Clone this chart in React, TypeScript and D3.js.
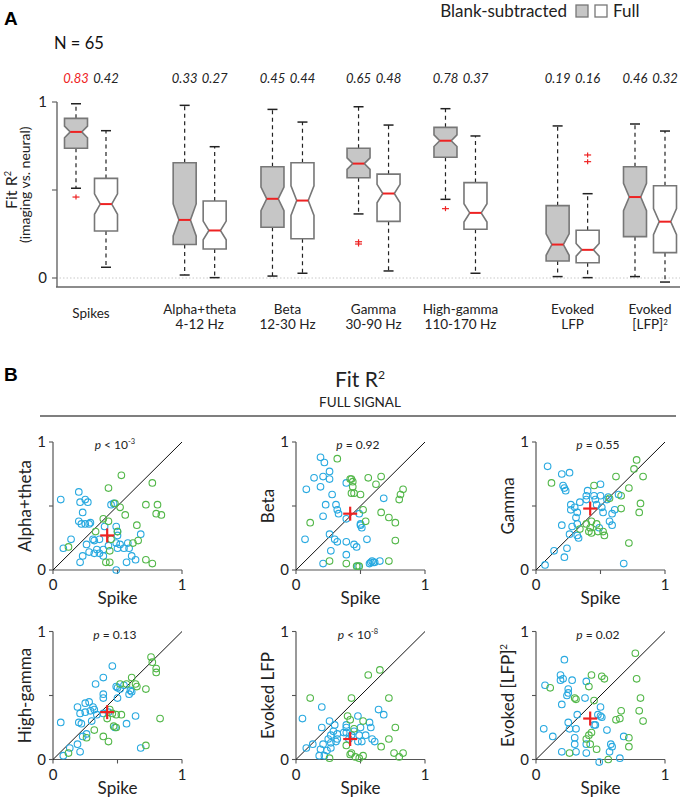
import React from "react";
import * as d3 from "d3";

// ---------------- DATA ----------------
const groupLabels: string[][] = [
  ["Spikes"],
  ["Alpha+theta", "4-12 Hz"],
  ["Beta", "12-30 Hz"],
  ["Gamma", "30-90 Hz"],
  ["High-gamma", "110-170 Hz"],
  ["Evoked", "LFP"],
  ["Evoked", "[LFP]^2"],
];
const N = 65;
// box stats: [lowWhisker, q1, median, q3, highWhisker]
const blankStats: number[][] = [
  [0.51, 0.737, 0.83, 0.907, 0.99],
  [0.017, 0.19, 0.33, 0.655, 0.981],
  [0.011, 0.288, 0.45, 0.632, 0.958],
  [0.364, 0.57, 0.65, 0.737, 0.973],
  [0.447, 0.686, 0.78, 0.856, 0.962],
  [0.008, 0.097, 0.19, 0.411, 0.864],
  [0.008, 0.235, 0.46, 0.632, 0.875],
];
const fullStats: number[][] = [
  [0.061, 0.267, 0.42, 0.566, 0.837],
  [0.002, 0.165, 0.27, 0.4375, 0.746],
  [0.027, 0.223, 0.44, 0.655, 0.886],
  [0.04, 0.322, 0.48, 0.59, 0.869],
  [0.027, 0.277, 0.37, 0.542, 0.807],
  [0.002, 0.087, 0.16, 0.271, 0.479],
  [-0.023, 0.144, 0.32, 0.524, 0.835],
];
const blankOutliers: number[][] = [[0.46], [], [], [0.206, 0.193], [0.394], [], []];
const fullOutliers: number[][] = [[], [], [], [], [], [0.699, 0.661], []];
const highlightBlank = [true, false, false, false, false, false, false];

// scatter panels (x = Spike full R², y = signal full R²)
const scatterNames = ["Alpha+theta", "Beta", "Gamma", "High-gamma", "Evoked LFP", "Evoked [LFP]^2"];
const pTexts = ["< 10^-3", "= 0.92", "= 0.55", "= 0.13", "< 10^-8", "= 0.02"];

const alphaBlue = [[0.06,0.55],[0.20,0.61],[0.21,0.53],[0.25,0.55],[0.27,0.53],[0.23,0.45],[0.20,0.38],[0.22,0.36],[0.25,0.36],[0.28,0.36],[0.29,0.37],[0.14,0.24],[0.08,0.17],[0.31,0.24],[0.32,0.23],[0.26,0.20],[0.23,0.11],[0.21,0.06],[0.28,0.14],[0.32,0.13],[0.34,0.16],[0.39,0.16],[0.39,0.11],[0.40,0.34],[0.45,0.51],[0.47,0.52],[0.49,0.34],[0.50,0.30],[0.50,0.27],[0.49,0.21],[0.50,0.17],[0.52,0.20],[0.55,0.17],[0.58,0.21],[0.59,0.17],[0.61,0.11],[0.64,0.08],[0.57,0.06],[0.68,0.28],[0.49,0.00],[0.36,0.13],[0.36,0.24],[0.43,0.19]];
const alphaGreen = [[0.53,0.74],[0.43,0.64],[0.77,0.68],[0.48,0.52],[0.52,0.49],[0.56,0.43],[0.72,0.51],[0.81,0.51],[0.80,0.44],[0.84,0.43],[0.39,0.40],[0.43,0.38],[0.33,0.30],[0.65,0.35],[0.50,0.30],[0.45,0.24],[0.66,0.23],[0.62,0.21],[0.12,0.18],[0.44,0.15],[0.41,0.06],[0.44,0.06],[0.72,0.08],[0.77,0.05]];
const betaBlue = [[0.19,0.88],[0.22,0.84],[0.26,0.77],[0.14,0.72],[0.21,0.73],[0.26,0.71],[0.08,0.63],[0.19,0.65],[0.28,0.59],[0.23,0.51],[0.31,0.51],[0.32,0.47],[0.33,0.44],[0.21,0.42],[0.39,0.68],[0.39,0.40],[0.49,0.44],[0.50,0.35],[0.51,0.33],[0.68,0.56],[0.07,0.24],[0.26,0.28],[0.30,0.24],[0.32,0.22],[0.39,0.22],[0.45,0.20],[0.47,0.18],[0.55,0.24],[0.27,0.15],[0.39,0.12],[0.21,0.05],[0.48,0.03],[0.57,0.05],[0.59,0.07],[0.60,0.06],[0.61,0.06],[0.65,0.07],[0.58,0.06],[0.50,0.36]];
const betaGreen = [[0.32,0.87],[0.42,0.71],[0.43,0.71],[0.44,0.69],[0.44,0.65],[0.43,0.60],[0.45,0.60],[0.50,0.59],[0.56,0.72],[0.66,0.73],[0.62,0.67],[0.83,0.63],[0.81,0.59],[0.80,0.55],[0.52,0.47],[0.66,0.45],[0.72,0.41],[0.77,0.37],[0.54,0.38],[0.11,0.37],[0.77,0.23],[0.26,0.07],[0.39,0.05],[0.47,0.03],[0.72,0.07],[0.49,0.03]];
const gammaBlue = [[0.09,0.81],[0.20,0.75],[0.26,0.76],[0.21,0.66],[0.22,0.64],[0.23,0.62],[0.50,0.67],[0.40,0.62],[0.39,0.58],[0.45,0.58],[0.50,0.58],[0.39,0.55],[0.46,0.55],[0.27,0.51],[0.30,0.49],[0.34,0.53],[0.27,0.47],[0.32,0.45],[0.31,0.41],[0.20,0.35],[0.28,0.34],[0.32,0.36],[0.26,0.28],[0.32,0.27],[0.33,0.25],[0.51,0.49],[0.52,0.45],[0.55,0.55],[0.56,0.57],[0.64,0.59],[0.61,0.47],[0.59,0.44],[0.57,0.38],[0.59,0.35],[0.49,0.33],[0.14,0.15],[0.24,0.17],[0.22,0.10],[0.07,0.04],[0.68,0.05],[0.47,0.51]];
const gammaGreen = [[0.12,0.68],[0.45,0.66],[0.78,0.86],[0.76,0.79],[0.83,0.73],[0.62,0.73],[0.72,0.64],[0.66,0.58],[0.57,0.56],[0.66,0.48],[0.81,0.52],[0.80,0.45],[0.39,0.36],[0.43,0.38],[0.47,0.36],[0.41,0.30],[0.43,0.29],[0.42,0.33],[0.52,0.30],[0.53,0.27],[0.34,0.32],[0.72,0.21],[0.48,0.30]];
const hgBlue = [[0.46,0.73],[0.39,0.64],[0.33,0.59],[0.39,0.51],[0.39,0.48],[0.28,0.45],[0.25,0.44],[0.19,0.41],[0.31,0.41],[0.21,0.36],[0.25,0.37],[0.29,0.38],[0.32,0.39],[0.34,0.35],[0.39,0.36],[0.43,0.37],[0.06,0.29],[0.20,0.29],[0.22,0.28],[0.30,0.30],[0.50,0.56],[0.52,0.55],[0.50,0.48],[0.55,0.58],[0.59,0.51],[0.60,0.54],[0.61,0.53],[0.64,0.34],[0.57,0.28],[0.48,0.25],[0.26,0.20],[0.23,0.18],[0.19,0.12],[0.21,0.06],[0.13,0.09],[0.08,0.03],[0.68,0.09],[0.49,0.57]];
const hgGreen = [[0.76,0.80],[0.77,0.76],[0.80,0.71],[0.80,0.68],[0.61,0.64],[0.64,0.59],[0.65,0.57],[0.72,0.55],[0.52,0.59],[0.83,0.32],[0.53,0.35],[0.49,0.35],[0.42,0.32],[0.44,0.39],[0.46,0.36],[0.47,0.26],[0.49,0.25],[0.32,0.23],[0.26,0.17],[0.39,0.18],[0.43,0.14],[0.72,0.11],[0.12,0.05],[0.57,0.59]];
const evBlue = [[0.05,0.32],[0.20,0.41],[0.26,0.30],[0.20,0.25],[0.30,0.27],[0.39,0.27],[0.39,0.25],[0.48,0.34],[0.50,0.25],[0.57,0.29],[0.58,0.25],[0.64,0.39],[0.68,0.35],[0.27,0.19],[0.32,0.20],[0.25,0.16],[0.27,0.13],[0.21,0.12],[0.19,0.08],[0.18,0.03],[0.22,0.03],[0.24,0.07],[0.31,0.14],[0.32,0.16],[0.37,0.21],[0.43,0.19],[0.45,0.22],[0.49,0.19],[0.54,0.19],[0.48,0.14],[0.51,0.14],[0.59,0.16],[0.61,0.14],[0.08,0.09],[0.13,0.12],[0.27,0.09],[0.39,0.21],[0.41,0.16],[0.29,0.22]];
const evGreen = [[0.65,0.70],[0.56,0.66],[0.11,0.48],[0.43,0.48],[0.72,0.48],[0.40,0.34],[0.42,0.31],[0.52,0.30],[0.77,0.25],[0.72,0.16],[0.66,0.10],[0.39,0.11],[0.42,0.04],[0.43,0.05],[0.46,0.02],[0.49,0.01],[0.52,0.03],[0.76,0.05],[0.80,0.02],[0.83,0.05],[0.26,0.01],[0.45,0.24]];
const ev2Blue = [[0.22,0.78],[0.19,0.66],[0.19,0.62],[0.21,0.63],[0.07,0.58],[0.28,0.62],[0.39,0.61],[0.25,0.55],[0.25,0.52],[0.24,0.50],[0.20,0.43],[0.38,0.48],[0.50,0.41],[0.48,0.35],[0.50,0.34],[0.51,0.33],[0.32,0.35],[0.25,0.29],[0.06,0.24],[0.13,0.18],[0.26,0.24],[0.31,0.24],[0.45,0.27],[0.46,0.27],[0.55,0.23],[0.30,0.17],[0.30,0.12],[0.39,0.12],[0.31,0.06],[0.20,0.06],[0.39,0.05],[0.58,0.12],[0.59,0.10],[0.57,0.06],[0.68,0.18],[0.65,0.01],[0.49,-0.02]];
const ev2Green = [[0.77,0.83],[0.78,0.63],[0.43,0.66],[0.51,0.65],[0.53,0.63],[0.41,0.57],[0.11,0.56],[0.30,0.48],[0.31,0.47],[0.45,0.46],[0.81,0.48],[0.66,0.38],[0.80,0.38],[0.83,0.30],[0.62,0.31],[0.65,0.32],[0.43,0.21],[0.41,0.19],[0.39,0.16],[0.42,0.12],[0.47,0.08],[0.72,0.17],[0.72,0.10],[0.26,0.05],[0.56,0.00]];

const blueSets = [alphaBlue, betaBlue, gammaBlue, hgBlue, evBlue, ev2Blue];
const greenSets = [alphaGreen, betaGreen, gammaGreen, hgGreen, evGreen, ev2Green];

// ---------------- LAYOUT / STYLE ----------------
const W = 682, H = 798;
const FONT = "Lato, 'Open Sans', sans-serif";
const groupSlots = [0, 1.25, 2.26, 3.25, 4.25, 5.54, 6.43];
const BOX_GRAY = "#777";
const BLANK_FILL = "#c6c6c6";
const RED = "#ee2222";
const BLUE = "#28a9e0";
const GREEN = "#52b748";

const fmt = d3.format(".2f");

function Sup({ text, size, rise = 0.4 }: { text: string; size: number; rise?: number }) {
  const [base, sup] = text.split("^");
  return (
    <>
      {base}
      {sup !== undefined && (
        <tspan fontSize={size * 0.58} dy={-size * rise}>
          {sup}
        </tspan>
      )}
    </>
  );
}

function BoxPanel() {
  const y = d3.scaleLinear().domain([0, 1]).range([278, 102]);
  const xs = d3.scaleLinear().domain([0, 6.43]).range([91, 650]);
  const off = 15;
  const halfW = 11.5;
  const capHalf = 5;
  const line = d3.line();

  const drawBox = (s: number[], cx: number, fill: string, outs: number[], key: string) => {
    const [lo, q1, med, q3, hi] = s;
    const notch = (1.57 * (q3 - q1)) / Math.sqrt(N);
    const inner = halfW / 2;
    const pts: [number, number][] = [
      [cx - halfW, y(q3)],
      [cx + halfW, y(q3)],
      [cx + halfW, y(med + notch)],
      [cx + inner, y(med)],
      [cx + halfW, y(med - notch)],
      [cx + halfW, y(q1)],
      [cx - halfW, y(q1)],
      [cx - halfW, y(med - notch)],
      [cx - inner, y(med)],
      [cx - halfW, y(med + notch)],
    ];
    return (
      <g key={key}>
        <line x1={cx} x2={cx} y1={y(q3)} y2={y(hi)} stroke="#222" strokeWidth={1.2} strokeDasharray="4,3.5" />
        <line x1={cx} x2={cx} y1={y(q1)} y2={y(lo)} stroke="#222" strokeWidth={1.2} strokeDasharray="4,3.5" />
        <line x1={cx - capHalf} x2={cx + capHalf} y1={y(hi)} y2={y(hi)} stroke="#222" strokeWidth={1.5} />
        <line x1={cx - capHalf} x2={cx + capHalf} y1={y(lo)} y2={y(lo)} stroke="#222" strokeWidth={1.5} />
        <path d={line(pts) + "Z"} fill={fill} stroke={BOX_GRAY} strokeWidth={1.6} />
        <line x1={cx - inner} x2={cx + inner} y1={y(med)} y2={y(med)} stroke={RED} strokeWidth={2} />
        {outs.map((o, i) => (
          <g key={i} stroke={RED} strokeWidth={1.2}>
            <line x1={cx - 3.5} x2={cx + 3.5} y1={y(o)} y2={y(o)} />
            <line x1={cx} x2={cx} y1={y(o) - 2.5} y2={y(o) + 2.5} />
          </g>
        ))}
      </g>
    );
  };

  return (
    <g fontFamily={FONT}>
      <text x={4} y={25} fontSize={19} fontWeight="bold" fontFamily="Arial, 'Liberation Sans', sans-serif">A</text>
      <text x={54} y={49} fontSize={16.5} fill="#111">N = {N}</text>
      {/* legend */}
      <text x={567} y={17} fontSize={17} textAnchor="end" fill="#222">Blank-subtracted</text>
      <rect x={576} y={5} width={12} height={12} fill={BLANK_FILL} stroke={BOX_GRAY} strokeWidth={1.3} />
      <rect x={595} y={5} width={12} height={12} fill="#fff" stroke={BOX_GRAY} strokeWidth={1.3} />
      <text x={613} y={17} fontSize={17} fill="#222">Full</text>

      {/* axes */}
      <line x1={56} x2={680} y1={y(0)} y2={y(0)} stroke="#bbb" strokeWidth={0.8} strokeDasharray="1.5,2" />
      <line x1={57} x2={57} y1={y(1)} y2={287} stroke="#666" strokeWidth={1.4} />
      <line x1={56} x2={680} y1={287} y2={287} stroke="#666" strokeWidth={1.6} />
      {[0, 0.5, 1].map((t) => (
        <line key={t} x1={52} x2={57} y1={y(t)} y2={y(t)} stroke="#666" strokeWidth={1.2} />
      ))}
      <text x={47} y={y(1) + 5} fontSize={15} textAnchor="end" fill="#222">1</text>
      <text x={47} y={y(0) + 5} fontSize={15} textAnchor="end" fill="#222">0</text>
      <text transform={`translate(17,${y(0.5)}) rotate(-90)`} textAnchor="middle" fontSize={16} fill="#222">
        <Sup text="Fit R^2" size={16} />
      </text>
      <text transform={`translate(30,${y(0.53)}) rotate(-90)`} textAnchor="middle" fontSize={14} fill="#222">
        (imaging vs. neural)
      </text>

      {groupLabels.map((lbl, i) => {
        const gx = xs(groupSlots[i]);
        return (
          <g key={i}>
            {drawBox(blankStats[i], gx - off, BLANK_FILL, blankOutliers[i], "b" + i)}
            {drawBox(fullStats[i], gx + off, "#fff", fullOutliers[i], "f" + i)}
            <text x={gx - off} y={83} fontSize={13} fontStyle="italic" textAnchor="middle" fill={highlightBlank[i] ? RED : "#222"}>
              {fmt(blankStats[i][2])}
            </text>
            <text x={gx + off} y={83} fontSize={13} fontStyle="italic" textAnchor="middle" fill="#222">
              {fmt(fullStats[i][2])}
            </text>
            {lbl.map((l, j) => (
              <text key={j} x={gx} y={lbl.length === 1 ? 318 : 314 + j * 14.5} fontSize={13.5} textAnchor="middle" fill="#222">
                <Sup text={l} size={13.5} rise={0.25} />
              </text>
            ))}
          </g>
        );
      })}
    </g>
  );
}

function PText({ t }: { t: string }) {
  const [rel, rest] = [t.slice(0, 1), t.slice(2)];
  const [base, exp] = rest.split("^");
  return (
    <>
      <tspan fontStyle="italic">p</tspan>
      {` ${rel} ${base}`}
      {exp !== undefined && (
        <tspan fontSize={7.5} dy={-5}>
          {exp}
        </tspan>
      )}
    </>
  );
}

function Scatter({ i }: { i: number }) {
  const cols = [53, 296, 536];
  const rows = [442, 631.5];
  const x0 = cols[i % 3];
  const top = rows[Math.floor(i / 3)];
  const x = d3.scaleLinear().domain([0, 1]).range([x0, x0 + 129]);
  const y = d3.scaleLinear().domain([0, 1]).range([top + 128, top]);
  const mean = [fullStats[0][2], fullStats[i + 1][2]];
  const ax = "#555";
  return (
    <g fontFamily={FONT}>
      <line x1={x(0)} x2={x(0)} y1={y(0)} y2={y(1)} stroke={ax} strokeWidth={1.2} />
      <line x1={x(0)} x2={x(1)} y1={y(0)} y2={y(0)} stroke={ax} strokeWidth={1.2} />
      {[0, 0.5, 1].map((t) => (
        <g key={t}>
          <line x1={x(0) - 4} x2={x(0)} y1={y(t)} y2={y(t)} stroke={ax} strokeWidth={1.1} />
          <line x1={x(t)} x2={x(t)} y1={y(0)} y2={y(0) + 4} stroke={ax} strokeWidth={1.1} />
        </g>
      ))}
      <text x={x(0) - 7} y={y(1) + 5} fontSize={15} textAnchor="end" fill="#222">1</text>
      <text x={x(0) - 7} y={y(0) + 5} fontSize={15} textAnchor="end" fill="#222">0</text>
      <text x={x(0)} y={y(0) + 20} fontSize={15} textAnchor="middle" fill="#222">0</text>
      <text x={x(1)} y={y(0) + 20} fontSize={15} textAnchor="middle" fill="#222">1</text>
      <text x={x(0.5)} y={y(0) + 34} fontSize={17} textAnchor="middle" fill="#222">Spike</text>
      <text transform={`translate(${x(0) - 22},${y(0.5)}) rotate(-90)`} fontSize={17} textAnchor="middle" fill="#222">
        <Sup text={scatterNames[i]} size={17} />
      </text>
      <text x={x(0.48)} y={y(1) + 7} fontSize={12} textAnchor="middle" fill="#222">
        <PText t={pTexts[i]} />
      </text>
      <line x1={x(0)} y1={y(0)} x2={x(1)} y2={y(1)} stroke="#111" strokeWidth={1} />
      {blueSets[i].map((d, k) => (
        <circle key={"b" + k} cx={x(d[0])} cy={y(d[1])} r={3.3} fill="none" stroke={BLUE} strokeWidth={1.1} />
      ))}
      {greenSets[i].map((d, k) => (
        <circle key={"g" + k} cx={x(d[0])} cy={y(d[1])} r={3.3} fill="none" stroke={GREEN} strokeWidth={1.1} />
      ))}
      <g stroke={RED} strokeWidth={2.2}>
        <line x1={x(mean[0]) - 7} x2={x(mean[0]) + 7} y1={y(mean[1])} y2={y(mean[1])} />
        <line x1={x(mean[0])} x2={x(mean[0])} y1={y(mean[1]) - 7} y2={y(mean[1]) + 7} />
      </g>
    </g>
  );
}

export default function App() {
  return (
    <svg width={W} height={H} style={{ position: "absolute", left: 0, top: 0, background: "#fff" }}>
      <rect width={W} height={H} fill="#fff" />
      <BoxPanel />
      <g fontFamily={FONT}>
        <text x={4} y={381} fontSize={19} fontWeight="bold" fontFamily="Arial, 'Liberation Sans', sans-serif">B</text>
        <text x={360} y={387} fontSize={21} textAnchor="middle" fill="#222">
          <Sup text="Fit R^2" size={21} />
        </text>
        <text x={360} y={407} fontSize={13.5} textAnchor="middle" fill="#222">FULL SIGNAL</text>
        <line x1={40} x2={676} y1={416} y2={416} stroke="#555" strokeWidth={1.4} />
      </g>
      {scatterNames.map((_, i) => (
        <Scatter key={i} i={i} />
      ))}
    </svg>
  );
}
